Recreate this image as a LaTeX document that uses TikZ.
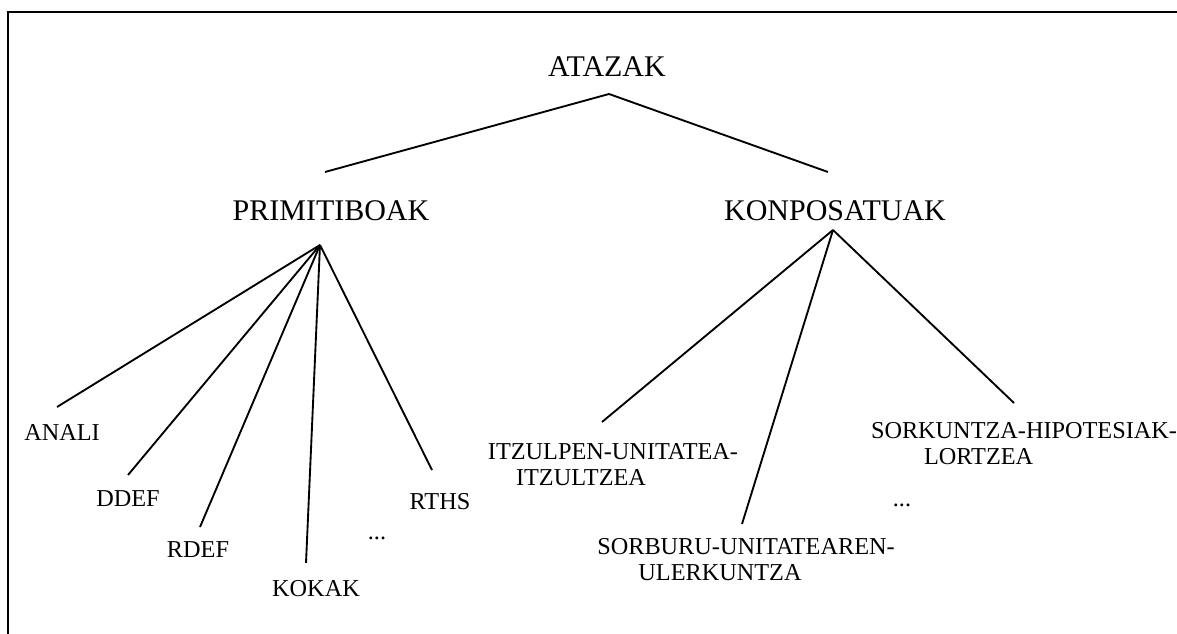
\documentclass[tikz,border=0pt]{standalone}
\usepackage{fontspec}
\setmainfont{Liberation Serif}
\usepackage{tikz}

\tikzset{
  big/.style={inner sep=0pt, font=\fontsize{22.5}{26}\selectfont},
  small/.style={inner sep=0pt, align=center, font=\fontsize{18.2}{19.5}\selectfont},
  edge/.style={line width=1.4pt}
}

\begin{document}
\begin{tikzpicture}[x=0.75pt, y=-0.75pt]
    \useasboundingbox (0,0) rectangle (1177,634);
    \draw[line width=1.6pt] (8,634) -- (8,12) -- (1177,12);

    \node[big] (atazak) at (607,67) {ATAZAK};

    \node[big] (primitiboak) at (331,211) {PRIMITIBOAK};
    \node[big] (konposatuak) at (835,211) {KONPOSATUAK};

    \node[small] (anali) at (62,432) {ANALI};
    \node[small] (ddef) at (128,499) {DDEF};
    \node[small] (rdef) at (198,550) {RDEF};
    \node[small] (kokak) at (316,589) {KOKAK};
    \node[small] (rths) at (440,502) {RTHS};
    \node[small] (dotsa) at (377,538) {...};

    \node[small] (itzulpen) at (613,465) {ITZULPEN-UNITATEA-\\ITZULTZEA\hspace*{48pt}};
    \node[small] (sorburu) at (746,560) {SORBURU-UNITATEAREN-\\ULERKUNTZA\hspace*{39pt}};
    \node[small] (sorkuntza) at (1024,444) {SORKUNTZA-HIPOTESIAK-\\LORTZEA\hspace*{68pt}};
    \node[small] (dotsb) at (902,505) {...};

    % line ends
    \coordinate (atazak-b) at (609,94);
    \coordinate (primitiboak-t) at (325,172);
    \coordinate (primitiboak-b) at (320,245);
    \coordinate (konposatuak-t) at (828,172);
    \coordinate (konposatuak-b) at (833,230);
    \coordinate (anali-t) at (57,407);
    \coordinate (ddef-t) at (128,475);
    \coordinate (rdef-t) at (200,527);
    \coordinate (kokak-t) at (306,563);
    \coordinate (rths-t) at (432,470);
    \coordinate (itzulpen-t) at (602,422);
    \coordinate (sorburu-t) at (742,524);
    \coordinate (sorkuntza-t) at (1014,403);

    \draw[edge] (atazak-b) -- (primitiboak-t);
    \draw[edge] (atazak-b) -- (konposatuak-t);

    \draw[edge] (primitiboak-b) -- (anali-t);
    \draw[edge] (primitiboak-b) -- (ddef-t);
    \draw[edge] (primitiboak-b) -- (rdef-t);
    \draw[edge] (primitiboak-b) -- (kokak-t);
    \draw[edge] (primitiboak-b) -- (rths-t);

    \draw[edge] (konposatuak-b) -- (itzulpen-t);
    \draw[edge] (konposatuak-b) -- (sorburu-t);
    \draw[edge] (konposatuak-b) -- (sorkuntza-t);

  \end{tikzpicture}
\end{document}
